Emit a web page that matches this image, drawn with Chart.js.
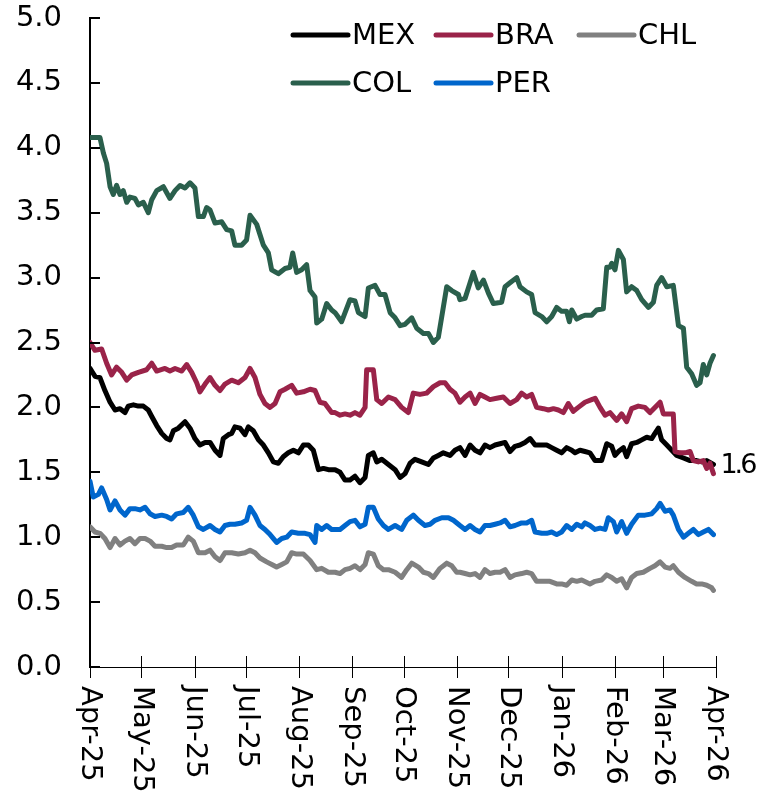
<!DOCTYPE html>
<html><head><meta charset="utf-8">
<script src="https://cdn.jsdelivr.net/npm/chart.js@4"></script>
<style>html,body{margin:0;padding:0;background:#fff}#wrap{width:761px;height:802px;position:relative}</style>
</head><body><div id="wrap"><canvas id="c" width="761" height="802"></canvas></div>
<script>
// x values are days since 1 Apr 2025
const monthLabels = ['Apr-25','May-25','Jun-25','Jul-25','Aug-25','Sep-25','Oct-25','Nov-25','Dec-25','Jan-26','Feb-26','Mar-26','Apr-26'];
const monthDays = [0,30,61,91,122,153,183,214,244,275,306,334,365];
const yTicks = [0,0.5,1,1.5,2,2.5,3,3.5,4,4.5,5];
const seriesNames = ['MEX','BRA','CHL','COL','PER'];
const seriesColors = ['#000000','#9A2349','#808080','#2A5F4C','#0066CC'];

const MEX = [[0,2.30],[2.9,2.24],[5.8,2.23],[8.7,2.13],[11.7,2.04],[14.6,1.98],[17.5,1.99],[20.4,1.96],[22.3,2.01],[25.3,2.02],[28.2,2.01],[31.1,2.01],[34.0,1.98],[36.0,1.93],[38.9,1.86],[41.8,1.80],[44.7,1.76],[46.6,1.75],[48.6,1.82],[51.5,1.84],[55.4,1.89],[58.3,1.84],[61.2,1.76],[64.1,1.71],[67.1,1.73],[70.0,1.73],[72.9,1.67],[75.8,1.63],[77.7,1.76],[80.7,1.79],[82.6,1.80],[84.5,1.85],[87.5,1.84],[90.4,1.79],[92.3,1.85],[95.2,1.82],[98.2,1.75],[101.1,1.71],[104.0,1.65],[106.9,1.58],[109.8,1.57],[112.7,1.62],[115.6,1.65],[118.6,1.67],[121.5,1.65],[124.4,1.71],[127.3,1.71],[130.2,1.67],[133.2,1.52],[136.1,1.53],[139.0,1.52],[142.9,1.52],[145.8,1.50],[148.7,1.44],[151.6,1.44],[154.5,1.47],[157.4,1.42],[160.4,1.46],[162.3,1.63],[165.2,1.65],[167.2,1.58],[170.1,1.60],[174.0,1.56],[177.9,1.52],[180.8,1.46],[183.7,1.49],[186.6,1.57],[189.5,1.60],[193.4,1.58],[197.3,1.56],[200.2,1.61],[203.1,1.63],[206.0,1.65],[209.9,1.63],[212.8,1.67],[215.7,1.69],[218.7,1.63],[221.6,1.71],[224.5,1.67],[227.4,1.65],[230.3,1.71],[233.2,1.69],[236.2,1.71],[239.1,1.72],[242.0,1.73],[244.9,1.66],[247.8,1.70],[250.7,1.71],[253.6,1.73],[256.6,1.76],[259.5,1.71],[263.4,1.71],[266.3,1.71],[269.2,1.69],[272.1,1.67],[275.0,1.65],[277.9,1.69],[280.9,1.67],[282.8,1.65],[285.7,1.67],[288.6,1.66],[291.5,1.65],[294.5,1.59],[298.3,1.59],[301.3,1.72],[304.2,1.70],[306.1,1.63],[308.1,1.66],[311.0,1.69],[312.9,1.62],[315.8,1.72],[318.8,1.73],[321.7,1.75],[324.6,1.77],[327.5,1.76],[329.4,1.80],[331.4,1.84],[333.3,1.75],[336.3,1.71],[339.2,1.67],[342.1,1.63],[346.0,1.61],[349.9,1.59],[353.7,1.59],[356.7,1.58],[359.6,1.59],[363.5,1.56]];

const BRA = [[0,2.50],[2.9,2.44],[6.8,2.45],[9.7,2.34],[12.6,2.25],[15.5,2.31],[18.5,2.27],[21.4,2.21],[24.3,2.25],[28.2,2.27],[33.0,2.29],[36.0,2.34],[38.9,2.28],[43.7,2.30],[46.6,2.28],[49.6,2.30],[53.5,2.28],[56.4,2.33],[59.3,2.27],[62.2,2.19],[64.1,2.12],[67.1,2.18],[70.0,2.23],[72.9,2.17],[75.8,2.13],[78.7,2.18],[82.6,2.21],[86.5,2.19],[90.4,2.23],[93.3,2.30],[96.2,2.23],[99.1,2.10],[102.0,2.03],[105.0,2.00],[107.9,2.03],[110.8,2.12],[113.7,2.14],[117.6,2.17],[120.5,2.11],[124.4,2.12],[128.3,2.14],[131.2,2.13],[134.1,2.04],[137.0,2.03],[140.9,1.96],[142.9,1.96],[145.8,1.94],[148.7,1.95],[151.6,1.94],[154.5,1.96],[157.4,1.94],[160.4,2.00],[161.3,2.29],[165.2,2.29],[167.2,2.06],[170.1,2.03],[174.0,2.08],[177.9,2.06],[181.7,2.00],[185.6,1.96],[188.5,2.11],[192.4,2.10],[196.3,2.11],[200.2,2.16],[204.1,2.19],[207.0,2.19],[209.9,2.14],[212.8,2.11],[215.7,2.04],[218.7,2.08],[221.6,2.11],[224.5,2.03],[227.4,2.10],[230.3,2.08],[233.2,2.06],[237.1,2.07],[241.0,2.08],[244.9,2.03],[248.8,2.06],[251.7,2.11],[254.6,2.08],[257.5,2.10],[260.4,2.00],[264.4,1.99],[267.3,1.98],[270.2,1.99],[273.1,1.98],[276.0,1.96],[278.9,2.03],[281.8,1.97],[284.7,2.00],[288.6,2.04],[292.5,2.06],[294.5,2.07],[297.4,2.00],[300.3,1.94],[303.2,1.96],[307.1,1.90],[310.0,1.95],[312.9,1.89],[315.8,1.99],[319.7,2.01],[323.6,2.00],[326.5,1.96],[329.4,2.00],[332.4,2.04],[334.3,1.95],[337.2,1.95],[340.1,1.95],[341.1,1.66],[344.0,1.65],[346.9,1.65],[349.9,1.66],[351.8,1.59],[354.7,1.58],[357.6,1.59],[359.6,1.53],[361.5,1.57],[363.5,1.49]];

const CHL = [[0,1.08],[2.9,1.04],[5.8,1.03],[8.7,0.99],[11.7,0.92],[14.6,0.99],[17.5,0.94],[20.4,0.97],[23.3,0.99],[26.2,0.95],[29.1,0.99],[32.1,0.99],[35.0,0.97],[37.9,0.93],[41.8,0.93],[44.7,0.92],[47.6,0.92],[50.5,0.94],[54.4,0.94],[57.3,1.00],[60.2,0.97],[63.2,0.88],[67.1,0.88],[70.0,0.90],[72.9,0.85],[75.8,0.82],[78.7,0.88],[82.6,0.88],[86.5,0.87],[90.4,0.88],[93.3,0.90],[96.2,0.88],[99.1,0.84],[103.0,0.81],[106.0,0.79],[108.8,0.77],[111.8,0.79],[114.7,0.81],[117.6,0.88],[120.5,0.87],[124.4,0.87],[128.3,0.82],[132.2,0.75],[135.1,0.76],[139.0,0.73],[142.9,0.73],[145.8,0.72],[148.7,0.75],[151.6,0.76],[154.5,0.78],[157.4,0.75],[160.4,0.79],[162.3,0.88],[165.2,0.87],[168.1,0.78],[171.1,0.75],[174.0,0.75],[177.9,0.73],[181.7,0.69],[184.7,0.75],[187.6,0.80],[191.5,0.77],[194.4,0.73],[197.3,0.72],[200.2,0.69],[204.1,0.76],[208.0,0.80],[210.9,0.78],[213.8,0.73],[215.7,0.73],[218.7,0.72],[221.6,0.71],[224.5,0.72],[227.4,0.69],[230.3,0.75],[233.2,0.72],[236.2,0.73],[239.1,0.73],[242.0,0.75],[244.9,0.69],[247.8,0.71],[251.7,0.72],[254.6,0.73],[257.5,0.72],[260.4,0.66],[264.4,0.66],[268.2,0.66],[272.1,0.64],[275.0,0.64],[277.9,0.63],[280.9,0.67],[283.8,0.66],[286.7,0.67],[291.5,0.64],[294.5,0.66],[298.3,0.67],[301.3,0.71],[304.2,0.69],[307.1,0.66],[310.0,0.68],[312.9,0.61],[315.8,0.69],[318.8,0.72],[322.6,0.73],[326.5,0.76],[329.4,0.78],[332.4,0.81],[335.3,0.77],[338.2,0.76],[340.1,0.78],[343.1,0.73],[346.9,0.69],[350.8,0.66],[353.7,0.64],[356.7,0.64],[359.6,0.63],[362.5,0.61],[363.5,0.59]];

const COL = [[0,4.08],[5.8,4.08],[7.8,3.96],[9.7,3.88],[11.7,3.70],[13.6,3.64],[15.5,3.71],[17.5,3.64],[19.4,3.67],[21.4,3.58],[23.3,3.62],[26.2,3.61],[28.2,3.56],[31.1,3.58],[34.0,3.50],[36.0,3.60],[38.9,3.67],[42.8,3.70],[46.6,3.61],[49.6,3.67],[52.5,3.71],[55.4,3.69],[58.3,3.73],[61.2,3.69],[63.2,3.47],[66.1,3.47],[68.0,3.54],[70.0,3.52],[72.9,3.42],[76.8,3.43],[79.7,3.37],[82.6,3.36],[84.5,3.25],[88.4,3.25],[91.3,3.29],[93.3,3.48],[97.2,3.41],[101.1,3.25],[104.0,3.19],[105.9,3.06],[109.8,3.03],[113.7,3.07],[116.6,3.08],[118.2,3.19],[120.5,3.04],[123.4,3.06],[126.3,3.10],[128.3,2.90],[131.2,2.85],[132.2,2.65],[135.1,2.68],[138.0,2.80],[140.9,2.75],[142.9,2.73],[146.7,2.66],[151.6,2.83],[154.5,2.82],[156.5,2.73],[160.4,2.70],[162.3,2.92],[166.2,2.94],[169.1,2.87],[172.0,2.87],[175.0,2.73],[177.9,2.69],[180.8,2.63],[183.7,2.64],[187.6,2.69],[190.5,2.61],[194.4,2.57],[197.3,2.57],[200.2,2.50],[203.1,2.54],[208.0,2.93],[210.9,2.90],[214.8,2.87],[215.7,2.83],[218.7,2.84],[221.6,2.96],[223.5,3.04],[226.4,2.92],[229.4,2.98],[232.3,2.88],[235.2,2.80],[240.0,2.81],[242.0,2.93],[244.9,2.96],[248.8,3.00],[250.7,2.93],[254.6,2.89],[257.5,2.87],[259.5,2.73],[263.4,2.70],[266.3,2.66],[269.2,2.70],[272.1,2.77],[275.0,2.74],[277.9,2.74],[279.5,2.66],[280.9,2.75],[283.8,2.68],[286.7,2.70],[288.6,2.71],[292.5,2.71],[295.4,2.75],[299.3,2.76],[301.3,3.08],[303.2,3.08],[304.2,3.11],[306.1,3.06],[308.1,3.21],[311.0,3.14],[312.9,2.89],[315.8,2.93],[318.8,2.90],[321.7,2.83],[325.6,2.77],[328.5,2.81],[330.4,2.94],[333.3,3.00],[336.3,2.93],[340.1,2.94],[343.1,2.63],[346.0,2.61],[347.9,2.31],[350.8,2.26],[353.7,2.17],[355.7,2.19],[357.6,2.33],[359.6,2.25],[361.5,2.34],[363.5,2.40]];

const PER = [[0,1.43],[1.9,1.31],[4.9,1.33],[6.8,1.38],[9.7,1.29],[11.7,1.21],[14.6,1.28],[17.5,1.21],[20.4,1.17],[23.3,1.22],[26.2,1.22],[29.1,1.21],[32.1,1.23],[35.0,1.18],[37.9,1.16],[41.8,1.17],[44.7,1.16],[47.6,1.14],[50.5,1.18],[54.4,1.19],[57.3,1.23],[60.2,1.17],[63.2,1.08],[66.1,1.06],[70.0,1.09],[72.9,1.06],[75.8,1.04],[78.7,1.09],[81.6,1.10],[84.5,1.10],[88.4,1.11],[91.3,1.13],[93.3,1.23],[96.2,1.17],[99.1,1.09],[102.0,1.06],[105.0,1.02],[108.8,0.96],[111.8,0.99],[114.7,1.00],[117.6,1.04],[121.5,1.03],[125.4,1.03],[128.3,1.02],[131.2,0.96],[132.2,1.09],[135.1,1.06],[138.0,1.09],[140.9,1.06],[145.8,1.06],[148.7,1.09],[151.6,1.12],[154.5,1.13],[157.4,1.08],[160.4,1.10],[162.3,1.23],[165.2,1.23],[168.1,1.14],[171.1,1.09],[174.0,1.06],[177.9,1.09],[181.7,1.06],[184.7,1.13],[188.5,1.17],[191.5,1.13],[195.3,1.09],[198.3,1.10],[201.2,1.13],[205.1,1.15],[209.0,1.15],[211.9,1.13],[215.7,1.09],[218.7,1.06],[221.6,1.09],[224.5,1.06],[227.4,1.04],[230.3,1.09],[233.2,1.09],[236.2,1.10],[239.1,1.11],[242.0,1.13],[244.9,1.08],[247.8,1.09],[251.7,1.11],[254.6,1.11],[257.5,1.13],[259.5,1.04],[263.4,1.03],[266.3,1.03],[269.2,1.04],[272.1,1.02],[275.0,1.04],[277.9,1.09],[280.9,1.06],[283.8,1.10],[286.7,1.08],[288.6,1.11],[291.5,1.09],[294.5,1.06],[297.4,1.07],[300.3,1.06],[302.2,1.15],[305.2,1.12],[307.1,1.04],[310.0,1.12],[312.9,1.03],[315.8,1.10],[319.7,1.17],[323.6,1.17],[327.5,1.18],[330.4,1.22],[332.4,1.26],[335.3,1.20],[338.2,1.21],[340.1,1.17],[343.1,1.06],[346.0,1.00],[348.9,1.03],[351.8,1.06],[354.7,1.02],[357.6,1.04],[360.6,1.06],[363.5,1.02]];

const seriesData = [MEX, BRA, CHL, COL, PER];
const drawOrder = [5, 4, 3, 2, 1]; // later series drawn on top

const FONT = '"DejaVu Sans", sans-serif';
const legendPos = [[293,35],[436,35],[579,35],[293,83],[436,83]];

const customPlugin = {
  id: 'custom',
  afterDraw(chart) {
    const ctx = chart.ctx, x = chart.scales.x, y = chart.scales.y;
    ctx.save();
    ctx.strokeStyle = '#000';
    ctx.fillStyle = '#000';
    // inward y ticks
    ctx.lineWidth = 2;
    yTicks.forEach(v => {
      const py = Math.round(y.getPixelForValue(v));
      ctx.beginPath(); ctx.moveTo(x.left, py); ctx.lineTo(x.left + 10, py); ctx.stroke();
    });
    ctx.font = '29px ' + FONT;
    ctx.textAlign = 'right'; ctx.textBaseline = 'middle';
    yTicks.forEach(v => ctx.fillText(v.toFixed(1), x.left - 28, y.getPixelForValue(v)));
    // cross x ticks
    ctx.lineWidth = 1;
    monthDays.forEach(d => {
      const px = Math.round(x.getPixelForValue(d)) + 0.5;
      ctx.beginPath(); ctx.moveTo(px, y.bottom - 11); ctx.lineTo(px, y.bottom + 11); ctx.stroke();
    });
    // rotated x labels
    monthDays.forEach((d, i) => {
      ctx.save();
      ctx.translate(x.getPixelForValue(d), y.bottom + 19);
      ctx.rotate(Math.PI / 2);
      ctx.textAlign = 'left'; ctx.textBaseline = 'middle';
      ctx.fillText(monthLabels[i], 0, 0);
      ctx.restore();
    });
    // legend
    ctx.lineCap = 'round';
    ctx.lineWidth = 5;
    ctx.textAlign = 'left'; ctx.textBaseline = 'middle';
    seriesNames.forEach((n, i) => {
      const [lx, ly] = legendPos[i];
      ctx.strokeStyle = seriesColors[i];
      ctx.beginPath(); ctx.moveTo(lx, ly); ctx.lineTo(lx + 55, ly); ctx.stroke();
      ctx.fillStyle = '#000';
      ctx.fillText(n, lx + 59, ly + 1);
    });
    // end label for MEX
    const last = MEX[MEX.length - 1];
    ctx.font = '27px ' + FONT;
    if ('letterSpacing' in ctx) ctx.letterSpacing = '-3px';
    ctx.fillText(last[1].toFixed(1), x.getPixelForValue(last[0]) + 7, y.getPixelForValue(last[1]) + 1);
    ctx.restore();
  }
};

new Chart(document.getElementById('c'), {
  type: 'line',
  data: {
    datasets: seriesNames.map((n, i) => ({
      label: n,
      data: seriesData[i].map(p => ({x: p[0], y: p[1]})),
      borderColor: seriesColors[i],
      backgroundColor: seriesColors[i],
      order: drawOrder[i],
      fill: false
    }))
  },
  options: {
    responsive: false,
    animation: false,
    layout: {padding: {left: 90, right: 45, top: 18, bottom: 135}},
    plugins: {legend: {display: false}, tooltip: {enabled: false}},
    elements: {
      point: {radius: 0},
      line: {tension: 0, borderWidth: 5, borderJoinStyle: 'round', borderCapStyle: 'round'}
    },
    scales: {
      x: {type: 'linear', min: 0, max: 365, grid: {display: false, drawTicks: false, tickLength: 0}, ticks: {display: false}, border: {display: true, color: '#000', width: 1}},
      y: {type: 'linear', min: 0, max: 5, grid: {display: false, drawTicks: false, tickLength: 0}, ticks: {display: false, stepSize: 0.5}, border: {display: true, color: '#000', width: 2}}
    }
  },
  plugins: [customPlugin]
});
</script>
</body></html>
